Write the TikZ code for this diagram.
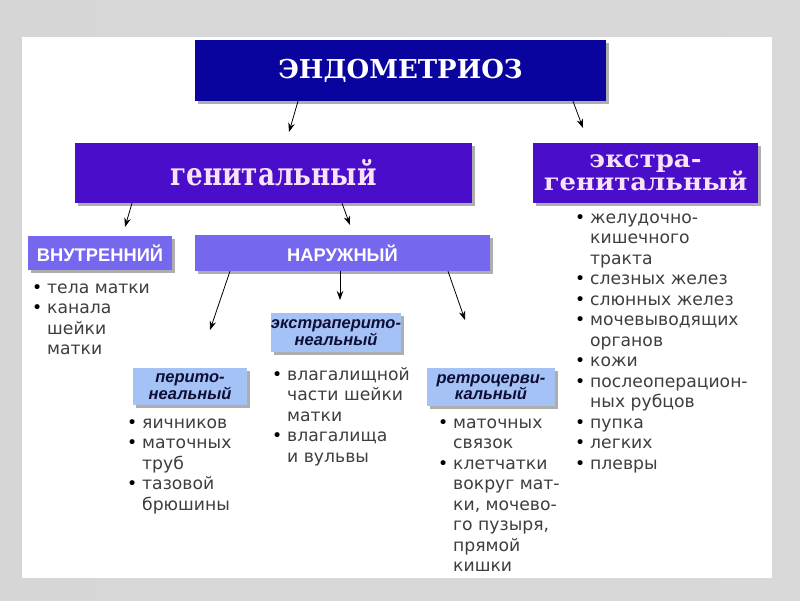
\documentclass[tikz,border=0pt]{standalone}
\usepackage{fontspec}
\setmainfont{DejaVu Sans}
\newfontfamily\hdserif{DejaVu Serif}
\newfontfamily\hdsans{Liberation Sans}
\usetikzlibrary{arrows.meta,shadows,calc}
\definecolor{topblue}{RGB}{10,4,158}
\definecolor{genpurple}{RGB}{74,14,202}
\definecolor{peri}{RGB}{118,104,238}
\definecolor{lblue}{RGB}{164,194,246}
\definecolor{pinkwhite}{RGB}{248,226,246}
\definecolor{navy}{RGB}{14,14,52}
\definecolor{bodygray}{RGB}{62,62,62}
\newcommand\bl{\strut\makebox[15pt][l]{\textcolor{black}{•}}}
\newcommand\ind{\strut\hspace*{15pt}}
\newcommand\extrafont{\hdserif\bfseries\fontsize{24}{23.5}\selectfont\lineskiplimit=-30pt\relax\lineskip=0pt\relax}
\begin{document}
\begin{tikzpicture}[x=1pt,y=-1pt,
  boxsh/.style={inner sep=0pt, drop shadow={shadow xshift=3pt, shadow yshift=-3pt, opacity=0.45, fill=black!70}},
  bigbox/.style={boxsh, text=pinkwhite},
  midbox/.style={boxsh, fill=peri, text=white, font=\hdsans\bfseries\fontsize{18.3}{18}\selectfont},
  smallbox/.style={boxsh, fill=lblue, text=navy, align=center, font=\hdsans\bfseries\itshape\fontsize{16.5}{16.5}\selectfont},
  blist/.style={inner sep=0pt, anchor=north west, align=left, text=bodygray, font=\fontsize{17.2}{20.5}\selectfont},
  arr/.style={-{Stealth[length=9pt,width=6.5pt]}, line width=0.8pt, black}]
\useasboundingbox (0,0) rectangle (800,600);
\shade[left color=gray!32, middle color=gray!9, right color=gray!30] (0,0) rectangle (800,600);
\fill[white] (22,37) rectangle (772,578);

% headers
\node[bigbox, fill=topblue, text=white, minimum width=411pt, minimum height=61pt,
  font=\hdserif\bfseries\fontsize{26}{26}\selectfont] (top) at (400.5,70.5)
  {ЭНДОМЕТРИОЗ};
\node[bigbox, fill=genpurple, minimum width=397pt, minimum height=60pt,
  font=\hdserif\bfseries\fontsize{32}{32}\selectfont] (gen) at (273.5,173)
  {\scalebox{0.82}[1]{генитальный}};
\node[bigbox, fill=genpurple, minimum width=225pt, minimum height=60pt, align=center,
  font=\extrafont] (extra) at (645.5,173)
  {\scalebox{1.08}[1]{экстра-}\\\scalebox{1.08}[1]{генитальный}};

\node[midbox, minimum width=144pt, minimum height=34pt] (vn) at (100,253) {ВНУТРЕННИЙ};
\node[midbox, minimum width=295pt, minimum height=36pt] (nar) at (342.5,253) {НАРУЖНЫЙ};

\node[smallbox, minimum width=128pt, minimum height=39pt] (ep) at (336,332.5) {экстраперито-\\неальный};
\node[smallbox, minimum width=114pt, minimum height=37pt] (pe) at (190,386.5) {перито-\\неальный};
\node[smallbox, minimum width=128pt, minimum height=38pt] (rc) at (491,387) {ретроцерви-\\кальный};

% lists
\node[blist] (lvn) at (32,278.65) {\bl тела матки\\\bl канала\\\ind шейки\\\ind матки};
\node[blist] (lpe) at (127,413.65) {\bl яичников\\\bl маточных\\\ind труб\\\bl тазовой\\\ind брюшины};
\node[blist] (lep) at (272,365.65) {\bl влагалищной\\\ind части шейки\\\ind матки\\\bl влагалища\\\ind и вульвы};
\node[blist] (lrc) at (438,413.65) {\bl маточных\\\ind связок\\\bl клетчатки\\\ind вокруг мат-\\\ind ки, мочево-\\\ind го пузыря,\\\ind прямой\\\ind кишки};
\node[blist] (lex) at (575,208.65) {\bl желудочно-\\\ind кишечного\\\ind тракта\\\bl слезных желез\\\bl слюнных желез\\\bl мочевыводящих\\\ind органов\\\bl кожи\\\bl послеоперацион-\\\ind ных рубцов\\\bl пупка\\\bl легких\\\bl плевры};

% arrow ends
\coordinate (e1) at (289,132);
\coordinate (e2) at (583,128);
\coordinate (e3) at (125,227);
\coordinate (e4) at (350,225);
\coordinate (e5) at (210,330);
\coordinate (e6) at (340,300);
\coordinate (e7) at (465,320);
\draw[arr] ([xshift=-102.5pt]top.south) -- (e1);
\draw[arr] ([xshift=172.5pt]top.south) -- (e2);
\draw[arr] ([xshift=-141.5pt]gen.south) -- (e3);
\draw[arr] ([xshift=68.5pt]gen.south) -- (e4);
\draw[arr] ([xshift=-112.5pt]nar.south) -- (e5);
\draw[arr] ([xshift=-2.5pt]nar.south) -- (e6);
\draw[arr] ([xshift=105.5pt]nar.south) -- (e7);
\end{tikzpicture}
\end{document}
